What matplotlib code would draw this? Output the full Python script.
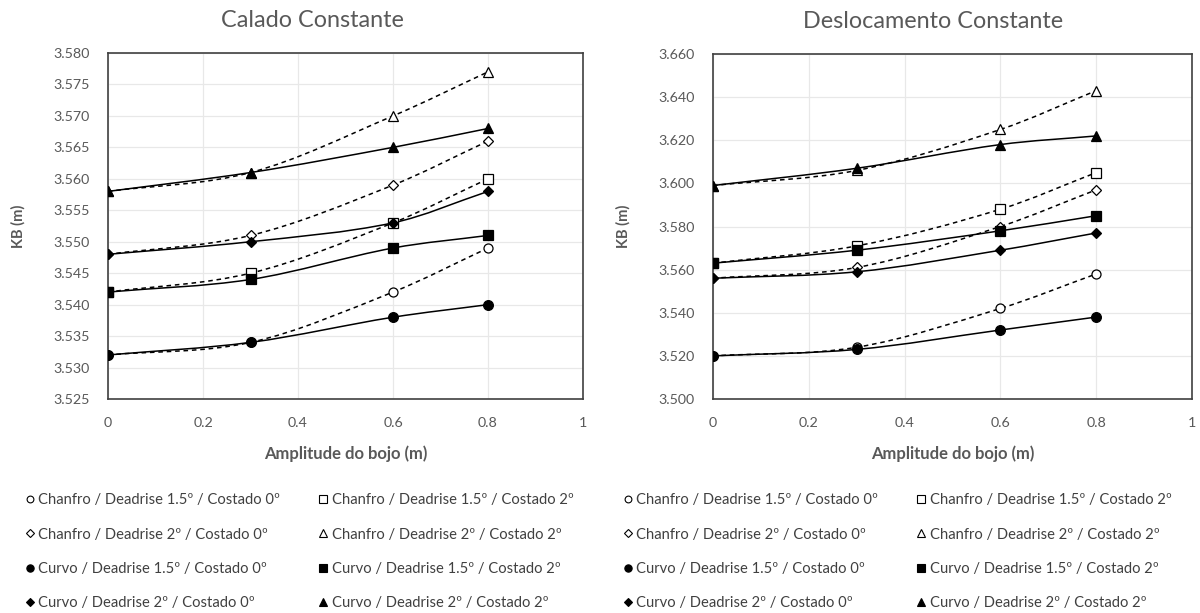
import numpy as np
import matplotlib.pyplot as plt
from matplotlib.path import Path
from matplotlib.patches import PathPatch
from matplotlib.lines import Line2D
from matplotlib.ticker import FormatStrFormatter, FuncFormatter

plt.rcParams['font.family'] = ['Lato', 'DejaVu Sans']

# Amplitude do bojo (m)
amplitude = [0.0, 0.3, 0.6, 0.8]

labels = ['Chanfro / Deadrise 1.5º / Costado 0º',
          'Chanfro / Deadrise 1.5º / Costado 2º',
          'Chanfro / Deadrise 2º / Costado 0º',
          'Chanfro / Deadrise 2º / Costado 2º',
          'Curvo / Deadrise 1.5º / Costado 0º',
          'Curvo / Deadrise 1.5º / Costado 2º',
          'Curvo / Deadrise 2º / Costado 0º',
          'Curvo / Deadrise 2º / Costado 2º']

# KB (m) - Calado Constante
calado = [
    [3.532, 3.534, 3.542, 3.549],
    [3.542, 3.545, 3.553, 3.560],
    [3.548, 3.551, 3.559, 3.566],
    [3.558, 3.561, 3.570, 3.577],
    [3.532, 3.534, 3.538, 3.540],
    [3.542, 3.544, 3.549, 3.551],
    [3.548, 3.550, 3.553, 3.558],
    [3.558, 3.561, 3.565, 3.568],
]

# KB (m) - Deslocamento Constante
deslocamento = [
    [3.520, 3.524, 3.542, 3.558],
    [3.563, 3.571, 3.588, 3.605],
    [3.556, 3.561, 3.580, 3.597],
    [3.599, 3.606, 3.625, 3.643],
    [3.520, 3.523, 3.532, 3.538],
    [3.563, 3.569, 3.578, 3.585],
    [3.556, 3.559, 3.569, 3.577],
    [3.599, 3.607, 3.618, 3.622],
]

markers = ['o', 's', 'D', '^', 'o', 's', 'D', '^']
msizes = [6.5, 7, 5, 7, 7, 7.5, 5, 7]
filled = [False, False, False, False, True, True, True, True]
gray = '#595959'


def smooth_path(x, y):
    # curva de Bezier suave (estilo Excel), tangentes pela inclinacao vizinha
    x = np.asarray(x, float)
    y = np.asarray(y, float)
    n = len(x)
    slope = np.empty(n)
    slope[0] = (y[1] - y[0]) / (x[1] - x[0])
    slope[-1] = (y[-1] - y[-2]) / (x[-1] - x[-2])
    for i in range(1, n - 1):
        slope[i] = (y[i + 1] - y[i - 1]) / (x[i + 1] - x[i - 1])
    verts = [(x[0], y[0])]
    codes = [Path.MOVETO]
    for i in range(n - 1):
        dx = (x[i + 1] - x[i]) / 3
        verts += [(x[i] + dx, y[i] + slope[i] * dx),
                  (x[i + 1] - dx, y[i + 1] - slope[i + 1] * dx),
                  (x[i + 1], y[i + 1])]
        codes += [Path.CURVE4] * 3
    return Path(verts, codes)


def draw(ax, data, title, title_x, ylim, ystep):
    for k, ys in enumerate(data):
        ls = (0, (3, 2.5)) if not filled[k] else '-'
        ax.add_patch(PathPatch(smooth_path(amplitude, ys), fill=False,
                               edgecolor='black', lw=1.1, linestyle=ls, zorder=2))
        ax.plot(amplitude, ys, linestyle='none', marker=markers[k], ms=msizes[k],
                mfc='black' if filled[k] else 'white', mec='black', mew=0.9, zorder=3)
    ax.set_xlim(0, 1)
    ax.set_ylim(*ylim)
    ax.set_xticks(np.arange(0, 1.01, 0.2))
    ax.set_yticks(np.arange(ylim[0], ylim[1] + ystep / 2, ystep))
    ax.xaxis.set_major_formatter(FuncFormatter(lambda v, p: '%g' % round(v, 1)))
    ax.yaxis.set_major_formatter(FormatStrFormatter('%.3f'))
    ax.grid(True, color='#e8e8e8', lw=0.9)
    ax.set_axisbelow(True)
    ax.tick_params(length=0, labelsize=10.3, colors=gray)
    ax.tick_params(axis='y', pad=13)
    ax.tick_params(axis='x', pad=13)
    for s in ax.spines.values():
        s.set_color('#404040')
        s.set_linewidth(1.2)
    ax.set_title(title, fontsize=16.8, color=gray, x=title_x, y=1.0, pad=19)
    ax.set_xlabel('Amplitude do bojo (m)', fontsize=12, fontweight='bold', color=gray, labelpad=12)
    ax.set_ylabel('KB (m)', fontsize=10.5, fontweight='bold', color=gray, labelpad=20)


fig = plt.figure(figsize=(12, 6.13), dpi=100)
ax1 = fig.add_axes([108 / 1200, 1 - 399 / 613, 475 / 1200, 346 / 613])
ax2 = fig.add_axes([713 / 1200, 1 - 399 / 613, 479 / 1200, 345 / 613])

draw(ax1, calado, 'Calado Constante', 0.43, (3.525, 3.580), 0.005)
draw(ax2, deslocamento, 'Deslocamento Constante', 0.46, (3.500, 3.660), 0.020)

# legenda (ordem por colunas)
order = [0, 2, 4, 6, 1, 3, 5, 7]
handles = [Line2D([], [], linestyle='none', marker=markers[k], ms=msizes[k] * 0.75,
                  mfc='black' if filled[k] else 'white', mec='black', mew=0.8)
           for k in order]
for x0 in (12 / 1200, 610 / 1200):
    fig.legend(handles, [labels[k] for k in order], ncol=2, loc='upper left',
               bbox_to_anchor=(x0, 1 - 480 / 613), frameon=False, fontsize=10.6,
               labelcolor='#404040', handlelength=0.6, handletextpad=0.3,
               labelspacing=1.38, columnspacing=2.6)

plt.savefig('out.png', dpi=100)
